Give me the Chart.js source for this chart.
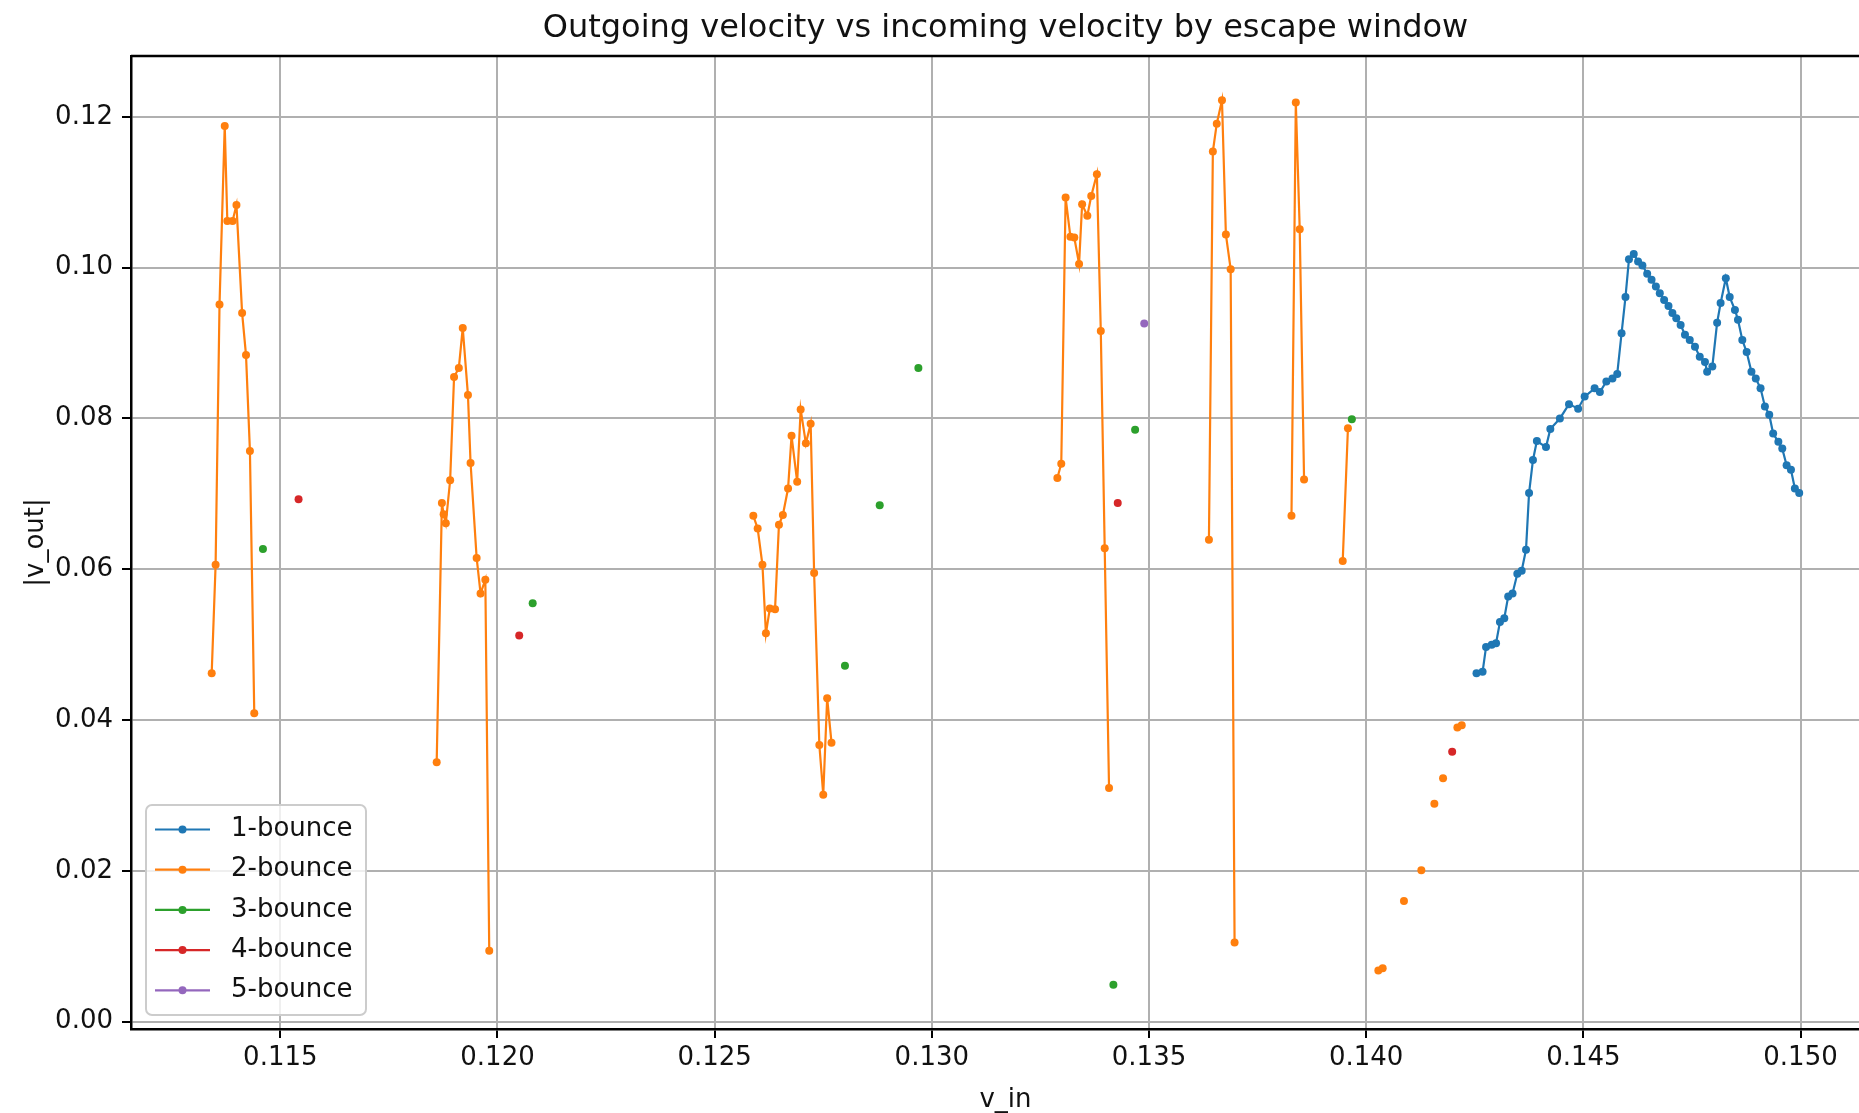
<!DOCTYPE html>
<html>
<head>
<meta charset="utf-8">
<title>Outgoing vs incoming velocity</title>
<script src="https://cdn.jsdelivr.net/npm/chart.js@4.4.1/dist/chart.umd.min.js"></script>
<style>
  html, body { margin: 0; padding: 0; background: #fff; overflow: hidden; }
  #wrap { width: 1859px; height: 1113px; overflow: hidden; }
  canvas { display: block; }
</style>
</head>
<body>
<div id="wrap"><canvas id="velocityChart" width="1900" height="1113"></canvas></div>
<script>
/* ================================
   DATA  (null = break between escape windows)
================================ */
const oneBounceVin = [0.14254, 0.14268, 0.14276, 0.14289, 0.14299, 0.14308, 0.14318, 0.14327, 0.14337, 0.14348,
  0.14358, 0.14368, 0.14375, 0.14384, 0.14393, 0.14414, 0.14424, 0.14446, 0.14467, 0.14488,
  0.14503, 0.14526, 0.14538, 0.14553, 0.14567, 0.14578, 0.14588, 0.14597, 0.14605, 0.14616,
  0.14626, 0.14636, 0.14647, 0.14657, 0.14667, 0.14676, 0.14686, 0.14696, 0.14705, 0.14714,
  0.14724, 0.14734, 0.14745, 0.14757, 0.14768, 0.14780, 0.14785, 0.14797, 0.14808, 0.14816,
  0.14828, 0.14837, 0.14849, 0.14856, 0.14866, 0.14876, 0.14887, 0.14897, 0.14908, 0.14918,
  0.14928, 0.14937, 0.14949, 0.14958, 0.14968, 0.14978, 0.14987, 0.14997];
const oneBounceVout = [0.0462, 0.0464, 0.0497, 0.0500, 0.0502, 0.0530, 0.0535, 0.0564, 0.0568, 0.0594,
  0.0598, 0.0626, 0.0701, 0.0745, 0.0770, 0.0762, 0.0786, 0.0800, 0.0819, 0.0813,
  0.0829, 0.0840, 0.0835, 0.0849, 0.0853, 0.0859, 0.0913, 0.0961, 0.1011, 0.1018,
  0.1008, 0.1003, 0.0992, 0.0984, 0.0975, 0.0966, 0.0957, 0.0949, 0.0940, 0.0933,
  0.0924, 0.0911, 0.0904, 0.0895, 0.0882, 0.0875, 0.0862, 0.0869, 0.0927, 0.0953,
  0.0986, 0.0961, 0.0944, 0.0931, 0.0904, 0.0888, 0.0862, 0.0853, 0.0840, 0.0816,
  0.0805, 0.0780, 0.0769, 0.0760, 0.0738, 0.0732, 0.0707, 0.0701];

const twoBounceVin = [
  0.11342, 0.11351, 0.11360, 0.11372, 0.11378, 0.11390, 0.11399, 0.11412, 0.11421, 0.11430, 0.11440, null,
  0.11860, 0.11872, 0.11876, 0.11881, 0.11891, 0.11900, 0.11911, 0.11920, 0.11932, 0.11938, 0.11952, 0.11961, 0.11972, 0.11981, null,
  0.12589, 0.12599, 0.12610, 0.12618, 0.12627, 0.12639, 0.12648, 0.12657, 0.12669, 0.12677,
  0.12690, 0.12698, 0.12710, 0.12721, 0.12729, 0.12741, 0.12750, 0.12759, 0.12769, null,
  0.13289, 0.13298, 0.13308, 0.13319, 0.13328, 0.13339, 0.13346, 0.13358, 0.13367, 0.13380, 0.13389, 0.13398, 0.13408, null,
  0.13638, 0.13647, 0.13656, 0.13668, 0.13677, 0.13688, 0.13697, null,
  0.13828, 0.13838, 0.13847, 0.13857, null,
  0.13946, 0.13958, null,
  0.14028, null, 0.14038, null, 0.14087, null, 0.14127, null, 0.14157, null, 0.14177, null, 0.14210, null, 0.14220];
const twoBounceVout = [
  0.0462, 0.0606, 0.0951, 0.1188, 0.1062, 0.1062, 0.1083, 0.0940, 0.0884, 0.0757, 0.0409, null,
  0.0344, 0.0688, 0.0673, 0.0661, 0.0718, 0.0855, 0.0867, 0.0920, 0.0831, 0.0741, 0.0615, 0.0568, 0.0586, 0.0094, null,
  0.0671, 0.0654, 0.0606, 0.0515, 0.0548, 0.0547, 0.0659, 0.0672, 0.0707, 0.0777,
  0.0716, 0.0812, 0.0767, 0.0793, 0.0595, 0.0367, 0.0301, 0.0429, 0.0370, null,
  0.0721, 0.0740, 0.1093, 0.1041, 0.1040, 0.1005, 0.1084, 0.1069, 0.1095, 0.1124, 0.0916, 0.0628, 0.0310, null,
  0.0639, 0.1154, 0.1191, 0.1222, 0.1044, 0.0998, 0.0105, null,
  0.0671, 0.1219, 0.1051, 0.0719, null,
  0.0611, 0.0787, null,
  0.0068, null, 0.0071, null, 0.0160, null, 0.0201, null, 0.0289, null, 0.0323, null, 0.0390, null, 0.0393];

const threeBounceVin = [0.11460, 0.12081, 0.12800, 0.12880, 0.12969, 0.13418, 0.13468, 0.13967];
const threeBounceVout = [0.0627, 0.0555, 0.0472, 0.0685, 0.0867, 0.0049, 0.0785, 0.0799];

const fourBounceVin = [0.11542, 0.12050, 0.13428, 0.14198];
const fourBounceVout = [0.0693, 0.0512, 0.0688, 0.0358];

const fiveBounceVin = [0.13489];
const fiveBounceVout = [0.0926];

const xTicks = [0.115, 0.120, 0.125, 0.130, 0.135, 0.140, 0.145, 0.150];
const yTicks = [0.00, 0.02, 0.04, 0.06, 0.08, 0.10, 0.12];


/* ================================
   HELPERS
================================ */
const toPoints = (xs, ys) => xs.map((x, i) => ({ x: x, y: ys[i] }));

const series = (label, color, xs, ys, order, joined) => ({
  label,
  data: toPoints(xs, ys),
  borderColor: color,
  backgroundColor: color,
  borderWidth: 2.2,
  pointRadius: 4,
  pointBorderWidth: 0,
  pointBackgroundColor: color,
  showLine: joined,
  spanGaps: false,
  order
});

Chart.defaults.font.family = '"DejaVu Sans", sans-serif';
Chart.defaults.color = '#111';


/* ================================
   SPINES + LEGEND
================================ */
const frameAndLegend = {
  id: 'frameAndLegend',
  afterDraw(chart) {
    const { ctx, chartArea: a } = chart;
    ctx.save();

    // top / right spines
    ctx.strokeStyle = '#000';
    ctx.lineWidth = 2.5;
    ctx.beginPath();
    ctx.moveTo(a.left, a.top);
    ctx.lineTo(a.right, a.top);
    ctx.lineTo(a.right, a.bottom);
    ctx.stroke();

    // legend, lower left
    const rowH = 40.2, boxW = 220, boxH = 210;
    const bx = a.left + 15, by = a.bottom - 14 - boxH;
    ctx.fillStyle = 'rgba(255,255,255,0.8)';
    ctx.strokeStyle = '#cccccc';
    ctx.lineWidth = 2;
    ctx.beginPath();
    ctx.roundRect(bx, by, boxW, boxH, 6);
    ctx.fill();
    ctx.stroke();

    ctx.font = '26px "DejaVu Sans"';
    ctx.textBaseline = 'middle';
    chart.data.datasets.forEach((ds, i) => {
      const cy = by + 24.5 + i * rowH;
      ctx.strokeStyle = ds.borderColor;
      ctx.lineWidth = 2.2;
      ctx.beginPath();
      ctx.moveTo(bx + 9, cy);
      ctx.lineTo(bx + 64, cy);
      ctx.stroke();
      ctx.fillStyle = ds.borderColor;
      ctx.beginPath();
      ctx.arc(bx + 36.5, cy, 4, 0, Math.PI * 2);
      ctx.fill();
      ctx.fillStyle = '#111';
      ctx.fillText(ds.label, bx + 85, cy);
    });

    ctx.restore();
  }
};


/* ================================
   CHART
================================ */
const ctx = document.getElementById('velocityChart');

new Chart(ctx, {
  type: 'line',
  data: {
    datasets: [
      series('1-bounce', '#1f77b4', oneBounceVin, oneBounceVout, 5, true),
      series('2-bounce', '#ff7f0e', twoBounceVin, twoBounceVout, 4, true),
      series('3-bounce', '#2ca02c', threeBounceVin, threeBounceVout, 3, false),
      series('4-bounce', '#d62728', fourBounceVin, fourBounceVout, 2, false),
      series('5-bounce', '#9467bd', fiveBounceVin, fiveBounceVout, 1, false)
    ]
  },
  options: {
    responsive: false,
    animation: false,
    layout: { padding: { left: 0, right: 20, top: 0, bottom: 0 } },
    plugins: {
      legend: { display: false },
      tooltip: { enabled: false },
      title: {
        display: true,
        text: 'Outgoing velocity vs incoming velocity by escape window',
        fullSize: false,
        color: '#111',
        font: { size: 32, weight: 'normal', lineHeight: 1.2 },
        padding: { top: 9, bottom: 8.6 }
      }
    },
    scales: {
      x: {
        type: 'linear',
        min: 0.111562,
        max: 0.15183,
        afterBuildTicks: (scale) => { scale.ticks = xTicks.map(v => ({ value: v })); },
        afterFit: (scale) => { scale.height = 84; },
        ticks: {
          font: { size: 26 },
          padding: 5,
          maxRotation: 0,
          callback: (v) => v.toFixed(3)
        },
        grid: { color: '#b0b0b0', lineWidth: 2, tickColor: '#000', tickLength: 9, tickWidth: 2 },
        border: { color: '#000', width: 2.5 },
        title: {
          display: true,
          text: 'v_in',
          font: { size: 26 },
          padding: { top: 0, bottom: -3 }
        }
      },
      y: {
        type: 'linear',
        min: -0.00097,
        max: 0.12807,
        afterBuildTicks: (scale) => { scale.ticks = yTicks.map(v => ({ value: v })); },
        afterFit: (scale) => { scale.width = 131; },
        ticks: {
          font: { size: 26 },
          padding: 9,
          callback: (v) => v.toFixed(2)
        },
        grid: { color: '#b0b0b0', lineWidth: 2, tickColor: '#000', tickLength: 9, tickWidth: 2 },
        border: { color: '#000', width: 2.5 },
        title: {
          display: true,
          text: '|v_out|',
          font: { size: 26 },
          padding: { top: 21, bottom: 0 }
        }
      }
    }
  },
  plugins: [frameAndLegend]
});
</script>
</body>
</html>
